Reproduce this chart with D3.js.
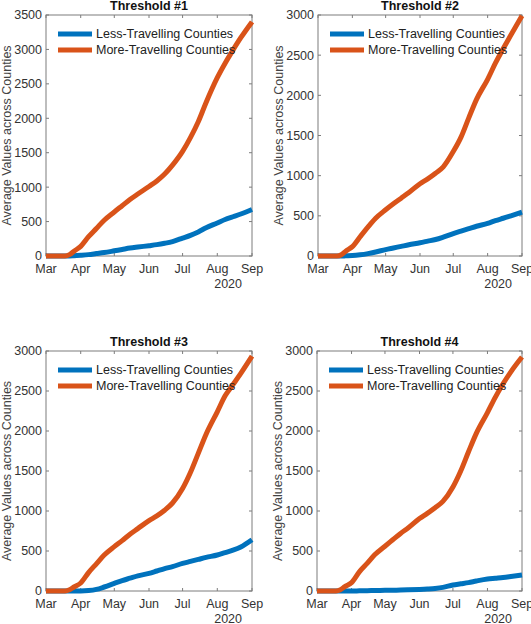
<!DOCTYPE html>
<html><head><meta charset="utf-8">
<script src="https://cdn.jsdelivr.net/npm/d3@7"></script>
<style>
body{margin:0;background:#fff;}
svg{display:block;}
text{font-family:"Liberation Sans",Arial,Helvetica,sans-serif;}
</style></head>
<body>
<svg id="chart" width="531" height="624"></svg>
<script>
const dates = ["2020-03-01","2020-03-10","2020-03-18","2020-03-22","2020-03-26","2020-04-01","2020-04-08","2020-04-15","2020-04-22","2020-05-01","2020-05-08","2020-05-15","2020-05-22","2020-06-01","2020-06-08","2020-06-15","2020-06-22","2020-07-01","2020-07-08","2020-07-15","2020-07-22","2020-08-01","2020-08-08","2020-08-15","2020-08-22","2020-09-01"];
const monthTicks = ["2020-03-01","2020-04-01","2020-05-01","2020-06-01","2020-07-01","2020-08-01","2020-09-01"];
const monthLabels = ["Mar","Apr","May","Jun","Jul","Aug","Sep"];
const seriesNames = ["Less-Travelling Counties","More-Travelling Counties"];
const titles = ["Threshold #1","Threshold #2","Threshold #3","Threshold #4"];
const yMax = [3500,3000,3000,3000];

const less1 = [0,0,0,0,3,10,20,35,50,75,95,115,130,150,165,185,210,260,300,350,410,480,530,570,610,675];
const more1 = [0,0,0,20,70,140,280,400,520,640,730,820,900,1010,1090,1190,1320,1520,1720,1950,2230,2590,2800,2990,3170,3400];
const less2 = [0,0,0,0,2,5,15,30,50,80,100,120,140,165,185,205,235,280,310,340,370,405,440,470,500,545];
const more2 = [0,0,0,15,60,116,240,360,470,575,650,720,790,900,960,1030,1110,1300,1480,1720,1950,2200,2400,2580,2750,2990];
const less3 = [0,0,0,0,0,0,5,20,50,95,130,160,190,220,250,280,305,345,370,395,420,450,480,510,550,640];
const more3 = [0,0,0,15,50,100,230,340,450,555,630,710,780,880,940,1010,1100,1280,1480,1720,1960,2240,2440,2580,2720,2935];
const less4 = [0,0,0,0,0,0,2,4,6,8,10,12,15,20,25,32,45,75,90,105,125,150,160,170,182,200];
const more4 = [0,0,0,15,55,105,240,345,455,560,640,720,790,905,970,1040,1120,1300,1500,1740,1970,2230,2420,2590,2740,2925];

const lessAll = [less1,less2,less3,less4];
const moreAll = [more1,more2,more3,more4];

const colors = ["#0072BD","#D95319"];
const parse = d3.timeParse("%Y-%m-%d");
const dateObjs = dates.map(parse);
const tickDates = monthTicks.map(parse);

const panels = [
  {l:46,r:252,t:15,b:256},
  {l:318,r:522,t:15,b:256},
  {l:46,r:252,t:351,b:591},
  {l:317,r:522,t:351,b:591}
];

const svg = d3.select("#chart");
const axisCol = "#7c7c7c";
const textCol = "#333";
const tickLen = 3;
const fs = 12.5;

panels.forEach((p,i)=>{
  const g = svg.append("g");
  const x = d3.scaleTime().domain([tickDates[0], tickDates[tickDates.length-1]]).range([p.l,p.r]);
  const y = d3.scaleLinear().domain([0,yMax[i]]).range([p.b,p.t]);
  const yTicks = d3.range(0, yMax[i]+1, 500);

  yTicks.forEach(v=>{
    g.append("line").attr("x1",p.l).attr("x2",p.l+tickLen).attr("y1",y(v)).attr("y2",y(v)).attr("stroke",axisCol);
    g.append("line").attr("x1",p.r).attr("x2",p.r-tickLen).attr("y1",y(v)).attr("y2",y(v)).attr("stroke",axisCol);
    g.append("text").attr("x",p.l-4).attr("y",y(v)).attr("dy","0.35em").attr("text-anchor","end")
      .attr("font-size",fs).attr("fill",textCol).text(v);
  });
  tickDates.forEach((d,k)=>{
    g.append("line").attr("x1",x(d)).attr("x2",x(d)).attr("y1",p.b).attr("y2",p.b-tickLen).attr("stroke",axisCol);
    g.append("line").attr("x1",x(d)).attr("x2",x(d)).attr("y1",p.t).attr("y2",p.t+tickLen).attr("stroke",axisCol);
    g.append("text").attr("x",x(d)).attr("y",p.b+13).attr("dy","0.35em").attr("text-anchor","middle")
      .attr("font-size",fs).attr("fill",textCol).text(monthLabels[k]);
  });
  g.append("text").attr("x",p.r-10).attr("y",p.b+28).attr("dy","0.35em").attr("text-anchor","end")
    .attr("font-size",fs).attr("fill",textCol).text("2020");

  g.append("rect").attr("x",p.l).attr("y",p.t).attr("width",p.r-p.l).attr("height",p.b-p.t)
    .attr("fill","none").attr("stroke",axisCol).attr("stroke-width",1);

  g.append("text").attr("x",(p.l+p.r)/2).attr("y",p.t-5).attr("text-anchor","middle")
    .attr("font-size",fs).attr("font-weight","bold").attr("fill","#111").text(titles[i]);

  const lx = p.l - 39;
  g.append("text").attr("transform",`translate(${lx},${(p.t+p.b)/2}) rotate(-90)`)
    .attr("text-anchor","middle").attr("dy","0.35em").attr("font-size",fs).attr("fill","#444")
    .text("Average Values across Counties");

  const line = d3.line().x((d,k)=>x(dateObjs[k])).y(d=>y(d)).curve(d3.curveMonotoneX);
  [lessAll[i], moreAll[i]].forEach((vals,s)=>{
    g.append("path").datum(vals).attr("d",line).attr("fill","none")
      .attr("stroke",colors[s]).attr("stroke-width",5).attr("stroke-linejoin","round");
  });

  seriesNames.forEach((nm,s)=>{
    const ly = p.t + 19 + s*16;
    g.append("line").attr("x1",p.l+12).attr("x2",p.l+46).attr("y1",ly).attr("y2",ly)
      .attr("stroke",colors[s]).attr("stroke-width",5);
    g.append("text").attr("x",p.l+50).attr("y",ly).attr("dy","0.35em").attr("font-size",fs)
      .attr("fill","#222").text(nm);
  });
});
</script>
</body></html>
